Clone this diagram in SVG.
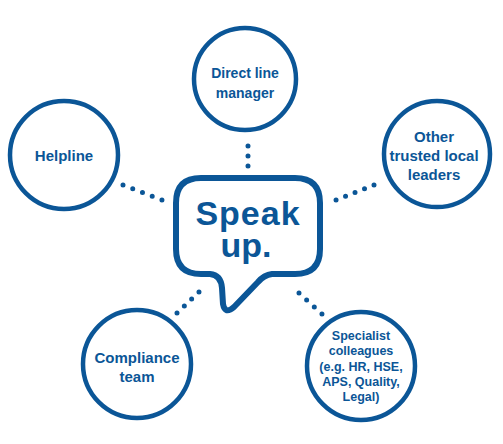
<svg xmlns="http://www.w3.org/2000/svg" width="503" height="444" viewBox="0 0 503 444">
<style>
.ring{fill:#fff;stroke:#0b5697;stroke-width:4.5}
.bubble{fill:#fff;stroke:#0b5697;stroke-width:6;stroke-linejoin:round}
.lbl{font-family:"Liberation Sans",Arial,sans-serif;font-weight:bold;fill:#0b5697;text-anchor:middle}
.dot{stroke:#0b5697;stroke-width:5;stroke-linecap:round;fill:none}
</style>
<rect width="503" height="444" fill="#fff"/>
<g id="connectors">
<line class="dot" x1="248" y1="146" x2="248" y2="166" stroke-dasharray="0 9.99"/>
<line class="dot" x1="123" y1="185" x2="162" y2="200" stroke-dasharray="0 10.43"/>
<line class="dot" x1="374" y1="185" x2="336" y2="200" stroke-dasharray="0 10.2"/>
<line class="dot" x1="177" y1="313" x2="199" y2="292" stroke-dasharray="0 10.13"/>
<line class="dot" x1="299" y1="293" x2="322" y2="314" stroke-dasharray="0 10.36"/>
</g>
<g id="speak-up">
<path class="bubble" d="M201,178 H295 Q320,178 320,203 V249 Q320,274 295,274 H272 Q264,275 258,282 L234,307 Q225,315 223,304 L222,288 Q221,275 210,274 H201 Q176,274 176,249 V203 Q176,178 201,178 Z"/>
<text class="lbl" font-size="34"><tspan x="248" y="225" letter-spacing="1">Speak</tspan><tspan x="246" y="257">up.</tspan></text>
</g>
<g id="direct-line-manager">
<circle class="ring" cx="245" cy="79" r="51"/>
<text class="lbl" x="245" y="78" font-size="14">Direct line</text>
<text class="lbl" x="245" y="98" font-size="14">manager</text>
</g>
<g id="helpline">
<circle class="ring" cx="64" cy="155" r="54"/>
<text class="lbl" x="64" y="161" font-size="15">Helpline</text>
</g>
<g id="other-trusted-local-leaders">
<circle class="ring" cx="437" cy="154" r="53"/>
<text class="lbl" x="434" y="142" font-size="15">Other</text>
<text class="lbl" x="434" y="161" font-size="15">trusted local</text>
<text class="lbl" x="434" y="180" font-size="15">leaders</text>
</g>
<g id="compliance-team">
<circle class="ring" cx="137" cy="364" r="54"/>
<text class="lbl" x="137" y="363" font-size="15">Compliance</text>
<text class="lbl" x="137" y="382" font-size="15">team</text>
</g>
<g id="specialist-colleagues">
<circle class="ring" cx="361" cy="366" r="54"/>
<text class="lbl" x="361" y="340" font-size="12.5">Specialist</text>
<text class="lbl" x="361" y="355" font-size="12.5">colleagues</text>
<text class="lbl" x="361" y="371" font-size="12.5">(e.g. HR, HSE,</text>
<text class="lbl" x="361" y="386" font-size="12.5">APS, Quality,</text>
<text class="lbl" x="361" y="401" font-size="12.5">Legal)</text>
</g>
</svg>
